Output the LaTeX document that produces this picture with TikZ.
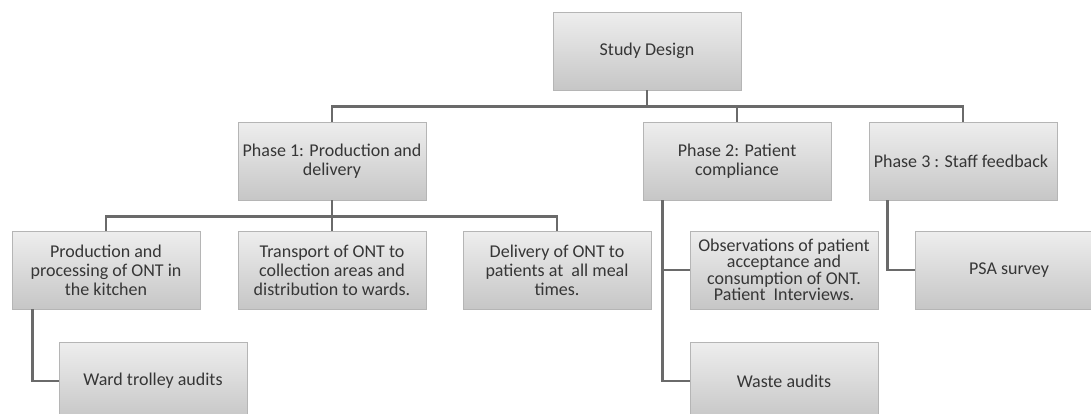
\documentclass[tikz,border=0pt]{standalone}
\usepackage{fontspec}
\setmainfont{Carlito}
\definecolor{boxtop}{HTML}{EEEEEE}
\definecolor{boxbottom}{HTML}{C6C6C6}
\definecolor{boxline}{HTML}{B5B5B5}
\definecolor{linkgray}{HTML}{6A6A6A}
\definecolor{textgray}{HTML}{363636}

\begin{document}
\begin{tikzpicture}[
        x=1pt, y=-1pt,
        card/.style={
            draw=boxline,
            line width=0.8pt,
            top color=boxtop,
            bottom color=boxbottom,
            minimum width=188pt,
            minimum height=78pt,
            align=center,
            text=textgray,
            font=\fontsize{18pt}{19pt}\selectfont
        },
        link/.style={draw=linkgray, line width=2.6pt}
    ]
        \clip (0,0) rectangle (1091,413);

        \node[card] (design) at (647,51) {Study Design};

        \node[card] (phaseone) at (332,161) {
            Phase 1: Production and\\
            delivery
        };
        \node[card] (phasetwo) at (737,161) {
            Phase 2: Patient\\
            compliance
        };
        \node[card] (phasethree) at (963,161) {
            Phase 3 : Staff feedback
        };

        \node[card] (production) at (106,270) {
            Production and\\
            processing of ONT in\\
            the kitchen
        };
        \node[card] (transport) at (332,270) {
            Transport of ONT to\\
            collection areas and\\
            distribution to wards.
        };
        \node[card] (delivery) at (557,270) {
            Delivery of ONT to\\
            patients at~ all meal\\
            times.
        };
        \node[
            card,
            font=\fontsize{18pt}{16.5pt}\selectfont
        ] (observe) at (784,270) {
            Observations of patient\\
            acceptance and\\
            consumption of ONT.\\
            Patient~ Interviews.
        };
        \node[card] (psa) at (1009,270) {PSA survey};

        \node[card] (trolley) at (153,381) {Ward trolley audits};
        \node[card] (waste) at (784,381) {Waste audits};

        \foreach \kid in {phaseone,phasetwo,phasethree} {
            \draw[link] (design.south) -- ++(0,16) -| (\kid.north);
        }
        \foreach \kid in {production,transport,delivery} {
            \draw[link] (phaseone.south) -- ++(0,16) -| (\kid.north);
        }

        \draw[link] (production.south west) ++(21,0) |- (trolley.west);
        \draw[link] (phasetwo.south west) ++(20,0) |- (observe.west);
        \draw[link] (phasetwo.south west) ++(20,0) |- (waste.west);
        \draw[link] (phasethree.south west) ++(19,0) |- (psa.west);
    \end{tikzpicture}
\end{document}
